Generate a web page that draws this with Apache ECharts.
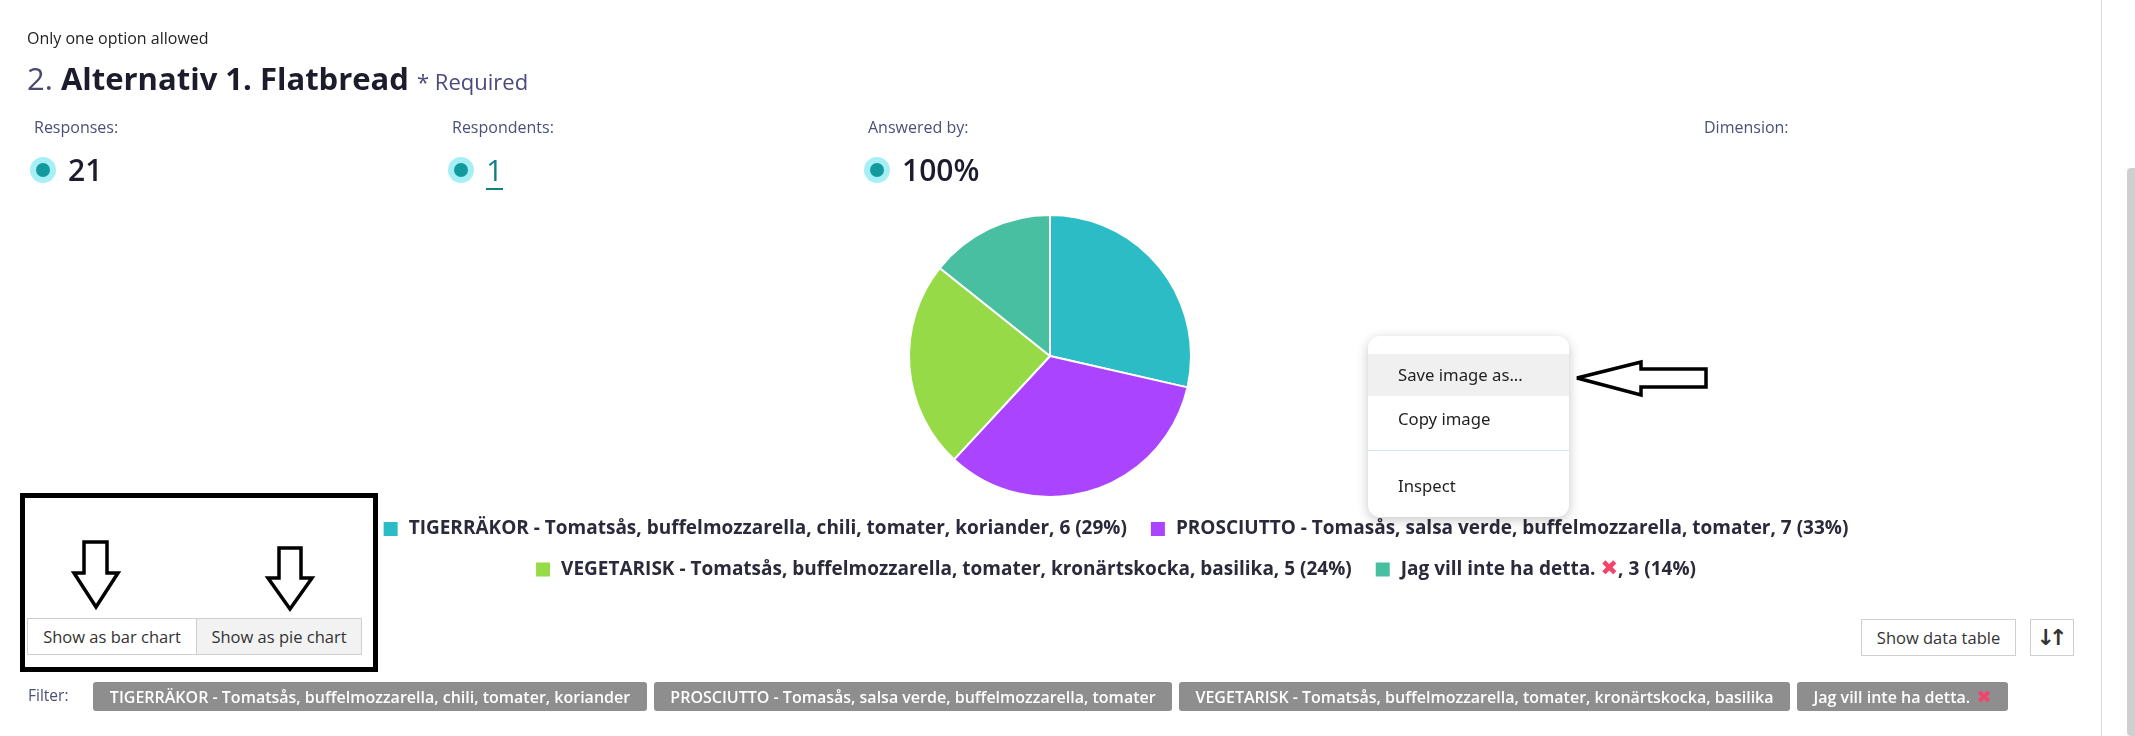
<!DOCTYPE html>
<html>
<head>
<meta charset="utf-8">
<script src="https://cdn.jsdelivr.net/npm/echarts@6/dist/echarts.min.js"></script>
<style>
html,body{margin:0;padding:0;width:2135px;height:736px;overflow:hidden;background:#fff;font-family:"Open Sans",sans-serif;}
.abs{position:absolute;white-space:nowrap;}
#chart{position:absolute;left:95px;top:0;width:2040px;height:736px;}
.lbl{font-size:16px;line-height:16px;color:#4a5078;}
.val{font-size:30px;line-height:30px;color:#1c1c2e;font-weight:600;}
.dot{position:absolute;width:26px;height:26px;border-radius:50%;background:#a6eff4;}
.dot::after{content:"";position:absolute;left:6px;top:6px;width:14px;height:14px;border-radius:50%;background:#139a9e;}
.btn{position:absolute;box-sizing:border-box;border:1px solid #cfcfcf;font-size:16.5px;color:#333;display:flex;align-items:center;justify-content:center;background:#fff;}
.chip{position:absolute;top:682px;height:29px;background:#8e8e8e;color:#fff;border-radius:3px;font-size:16px;font-weight:600;display:flex;align-items:center;justify-content:center;white-space:nowrap;}
.redx{color:#f4436c;font-family:"DejaVu Sans";font-weight:bold;font-size:18px;}
.menu{position:absolute;left:1368px;top:336px;width:201px;height:181px;background:#fff;border-radius:12px;box-shadow:0 3px 12px rgba(0,0,0,0.22);font-family:"Noto Sans",sans-serif;font-size:16.7px;color:#1f1f1f;}
.menu .it{position:absolute;left:0;width:201px;height:42px;line-height:42px;padding-left:30px;box-sizing:border-box;}
</style>
</head>
<body>
<div id="chart"></div>

<div class="abs" style="left:27px;top:30px;font-size:16px;line-height:16px;color:#222;">Only one option allowed</div>
<div class="abs" style="left:27px;top:62px;font-size:31px;line-height:32px;"><span style="color:#4a4a6e;">2. </span><span style="color:#1c1c2c;font-weight:700;">Alternativ 1. Flatbread</span> <span style="font-size:22px;color:#4a4a7c;font-weight:500;">* Required</span></div>

<div id="stats"></div>

<div class="abs" style="left:2101px;top:0;width:1px;height:736px;background:#dcdcdc;"></div>
<div class="abs" style="left:2127px;top:168px;width:8px;height:568px;background:#cfcfcf;border-radius:4px 0 0 4px;"></div>

<div class="menu">
  <div class="it" style="top:18px;background:#f0f0f0;">Save image as...</div>
  <div class="it" style="top:62px;">Copy image</div>
  <div style="position:absolute;left:0;top:114px;width:201px;height:1px;background:#d6e2f5;"></div>
  <div class="it" style="top:129px;">Inspect</div>
</div>

<svg class="abs" style="left:0;top:0;" width="2135" height="736">
  <polygon points="1577,378 1641,362 1641,369 1706,369 1706,387 1641,387 1641,395" fill="#fff" stroke="#000" stroke-width="3.5" stroke-linejoin="miter"/>
  <rect x="22.5" y="495.5" width="353" height="174" fill="none" stroke="#000" stroke-width="5"/>
  <polygon points="84,542 107,542 107,573 118,573 96,607 74,573 84,573" fill="#fff" stroke="#000" stroke-width="3.5"/>
  <polygon points="279,548 301,548 301,578 312,578 290,609 268,578 279,578" fill="#fff" stroke="#000" stroke-width="3.5"/>
</svg>

<div class="btn" style="left:27px;top:618px;width:170px;height:37px;">Show as bar chart</div>
<div class="btn" style="left:196px;top:618px;width:166px;height:37px;background:#f2f2f2;">Show as pie chart</div>
<div class="btn" style="left:1861px;top:619px;width:155px;height:37px;">Show data table</div>
<div class="btn" style="left:2030px;top:619px;width:44px;height:37px;font-weight:bold;letter-spacing:-6px;font-size:22px;font-family:'DejaVu Sans';padding-right:6px;">↓↑</div>

<div class="abs" style="left:28px;top:688px;font-size:15.5px;line-height:15.5px;color:#4a5078;">Filter:</div>
<div id="chips"></div>

<script>
// ---- data ----
const categories = [
  'TIGERRÄKOR - Tomatsås, buffelmozzarella, chili, tomater, koriander',
  'PROSCIUTTO - Tomasås, salsa verde, buffelmozzarella, tomater',
  'VEGETARISK - Tomatsås, buffelmozzarella, tomater, kronärtskocka, basilika',
  'Jag vill inte ha detta. ✖'
];
const values = [6, 7, 5, 3];
const sliceColors = ['#2bbcc5', '#aa44ff', '#96db47', '#48bfa0'];
const statLabels = ['Responses:', 'Respondents:', 'Answered by:', 'Dimension:'];
const statValues = ['21', '1', '100%', ''];
const legendRows = [[0, 1], [2, 3]];

// ---- stats ----
const statX = [34, 452, 868, 1704];
let sh = '';
statLabels.forEach((l, i) => {
  sh += `<div class="abs lbl" style="left:${statX[i]}px;top:119px;">${l}</div>`;
  if (statValues[i] !== '') {
    sh += `<div class="dot" style="left:${statX[i] - 4}px;top:157px;"></div>`;
    const teal = i === 1;
    sh += `<div class="abs val" style="left:${statX[i] + 34}px;top:155px;${teal ? 'color:#127f86;font-weight:500;' : ''}">${statValues[i]}</div>`;
    if (teal) sh += `<div class="abs" style="left:${statX[i] + 34}px;top:188px;width:17px;height:1.5px;background:#127f86;"></div>`;
  }
});
document.getElementById('stats').innerHTML = sh;

// ---- chips ----
const chipPos = [[93, 647], [654, 1172], [1179, 1790], [1797, 2008]];
document.getElementById('chips').innerHTML = categories.map((c, i) =>
  `<div class="chip" style="left:${chipPos[i][0]}px;width:${chipPos[i][1]-chipPos[i][0]}px;">${c.replace('✖', '<span class="redx">&nbsp;✖</span>')}</div>`
).join('');

// ---- chart ----
const total = values.reduce((a, b) => a + b, 0);
const chart = echarts.init(document.getElementById('chart'), null, {renderer: 'canvas'});
const legendCommon = {
  orient: 'horizontal',
  left: 'center',
  icon: 'rect',
  itemWidth: 16,
  itemHeight: 16,
  itemGap: 22,
  selectedMode: false,
  textStyle: {
    fontFamily: 'Open Sans',
    fontWeight: 'bold',
    fontSize: 19,
    lineHeight: 20,
    color: '#2a2a3a',
    padding: [0, 0, 0, 5],
    rich: { x: { color: '#f4436c', fontFamily: 'DejaVu Sans', fontWeight: 'bold', fontSize: 21, lineHeight: 20 } }
  },
  formatter: function (name) {
    const i = categories.indexOf(name);
    const pct = Math.round(values[i] / total * 100);
    return name.replace('✖', '{x|✖}') + ', ' + values[i] + ' (' + pct + '%)';
  }
};
chart.setOption({
  animation: false,
  legend: legendRows.map((row, r) => Object.assign({}, legendCommon, {
    top: r === 0 ? 514 : 554,
    data: row.map(i => categories[i])
  })),
  series: [{
    type: 'pie',
    center: [955, 356],
    radius: 141,
    startAngle: 90,
    clockwise: true,
    label: { show: false },
    labelLine: { show: false },
    itemStyle: { borderColor: '#fff', borderWidth: 2 },
    emphasis: { disabled: true },
    data: categories.map((c, i) => ({ name: c, value: values[i], itemStyle: { color: sliceColors[i] } }))
  }]
});
</script>
</body>
</html>
